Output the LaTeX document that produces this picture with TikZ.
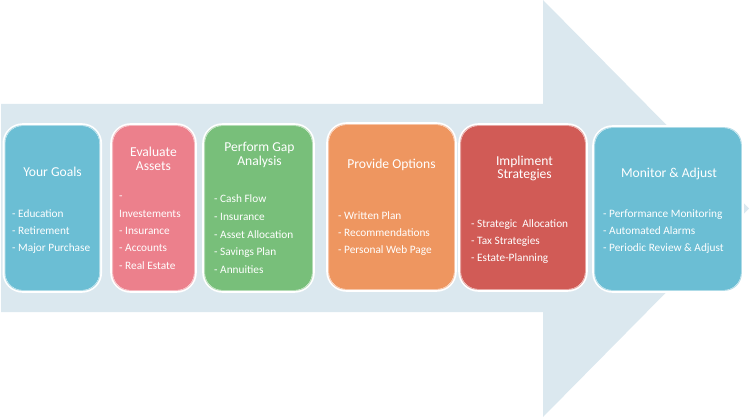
\documentclass[tikz,border=0pt]{standalone}
\usepackage{fontspec}
\setmainfont{Carlito}
\usetikzlibrary{calc}
\definecolor{arrowbg}{HTML}{DBE8EF}
\definecolor{cblue}{HTML}{6BBED4}
\definecolor{cpink}{HTML}{EC808C}
\definecolor{cgreen}{HTML}{78BF7A}
\definecolor{corange}{HTML}{EE9660}
\definecolor{cred}{HTML}{D15B56}
\tikzset{
  stepbox/.style={draw=white, line width=2.6pt, rounded corners=19pt, inner sep=0pt},
  glow/.style={line width=0.8pt, rounded corners=17pt},
  ttl/.style={text=white, font=\fontsize{13.6}{15}\selectfont, inner sep=0pt, anchor=base},
  item/.style={text=white, font=\fontsize{11.3}{13}\selectfont, inner sep=0pt, anchor=base west},
}
\begin{document}
\begin{tikzpicture}[x=1pt,y=-1pt]
\useasboundingbox (0,0) rectangle (750,417);
% big background arrow
\coordinate (s1) at (1,104);
\coordinate (h1) at (543,104);
\coordinate (h2) at (543,0);
\coordinate (tip) at (749,208.5);
\coordinate (h3) at (543,417);
\coordinate (h4) at (543,312);
\coordinate (s2) at (1,312);
\fill[arrowbg] (s1) -- (h1) -- (h2) -- (tip) -- (h3) -- (h4) -- (s2) -- cycle;

% boxes
\newcommand{\mkbox}[7]{%
  \node[stepbox, fill=#6, minimum width=#4pt, minimum height=#5pt] (#1) at (#2,#3) {};
  \draw[glow, draw=#7] ($(#1.north west)+(2.4,2.4)$) rectangle ($(#1.south east)+(-2.4,-2.4)$);
}
\mkbox{b1}{52.3}{208}{97}{167}{cblue}{cblue!55!white}
\mkbox{b2}{153.5}{208}{84}{167}{cpink}{cpink!55!white}
\mkbox{b3}{258.5}{208}{110}{167}{cgreen}{cgreen!55!white}
\mkbox{b4}{391.5}{207}{128}{167}{corange}{corange!55!white}
\mkbox{b5}{523}{207.5}{127}{166}{cred}{cred!55!white}
\mkbox{b6}{668}{209}{149}{165}{cblue}{cblue!55!white}

% titles
\node[ttl] (t1) at (52.5,176) {Your Goals};
\node[ttl] (t2a) at (153.5,157) {Evaluate};
\node[ttl] (t2b) at (153.5,171) {Assets};
\node[ttl] (t3a) at (259.5,152) {Perform Gap};
\node[ttl] (t3b) at (259.5,165.5) {Analysis};
\node[ttl] (t4) at (391.5,169) {Provide Options};
\node[ttl] (t5a) at (524.5,165) {Impliment};
\node[ttl] (t5b) at (524.5,178.5) {Strategies};
\node[ttl] (t6) at (669,178) {Monitor \& Adjust};

% lists
\foreach \t [count=\i] in {- Education, - Retirement, - Major Purchase}
  \node[item] (l1-\i) at (12,{217+(\i-1)*17.4}) {\t};
\foreach \t [count=\i] in {-, Investements, - Insurance, - Accounts, - Real Estate}
  \node[item] (l2-\i) at (119,{200+(\i-1)*17.3}) {\t};
\foreach \t [count=\i] in {- Cash Flow, - Insurance, - Asset Allocation, - Savings Plan, - Annuities}
  \node[item] (l3-\i) at (214,{203+(\i-1)*17.6}) {\t};
\foreach \t [count=\i] in {- Written Plan, - Recommendations, - Personal Web Page}
  \node[item] (l4-\i) at (338,{219+(\i-1)*17.2}) {\t};
\foreach \t [count=\i] in {- Strategic~ Allocation, - Tax Strategies, - Estate-Planning}
  \node[item] (l5-\i) at (471,{227+(\i-1)*17.1}) {\t};
\foreach \t [count=\i] in {- Performance Monitoring, - Automated Alarms, - Periodic Review \& Adjust}
  \node[item] (l6-\i) at (603,{217+(\i-1)*17.1}) {\t};
\end{tikzpicture}
\end{document}
